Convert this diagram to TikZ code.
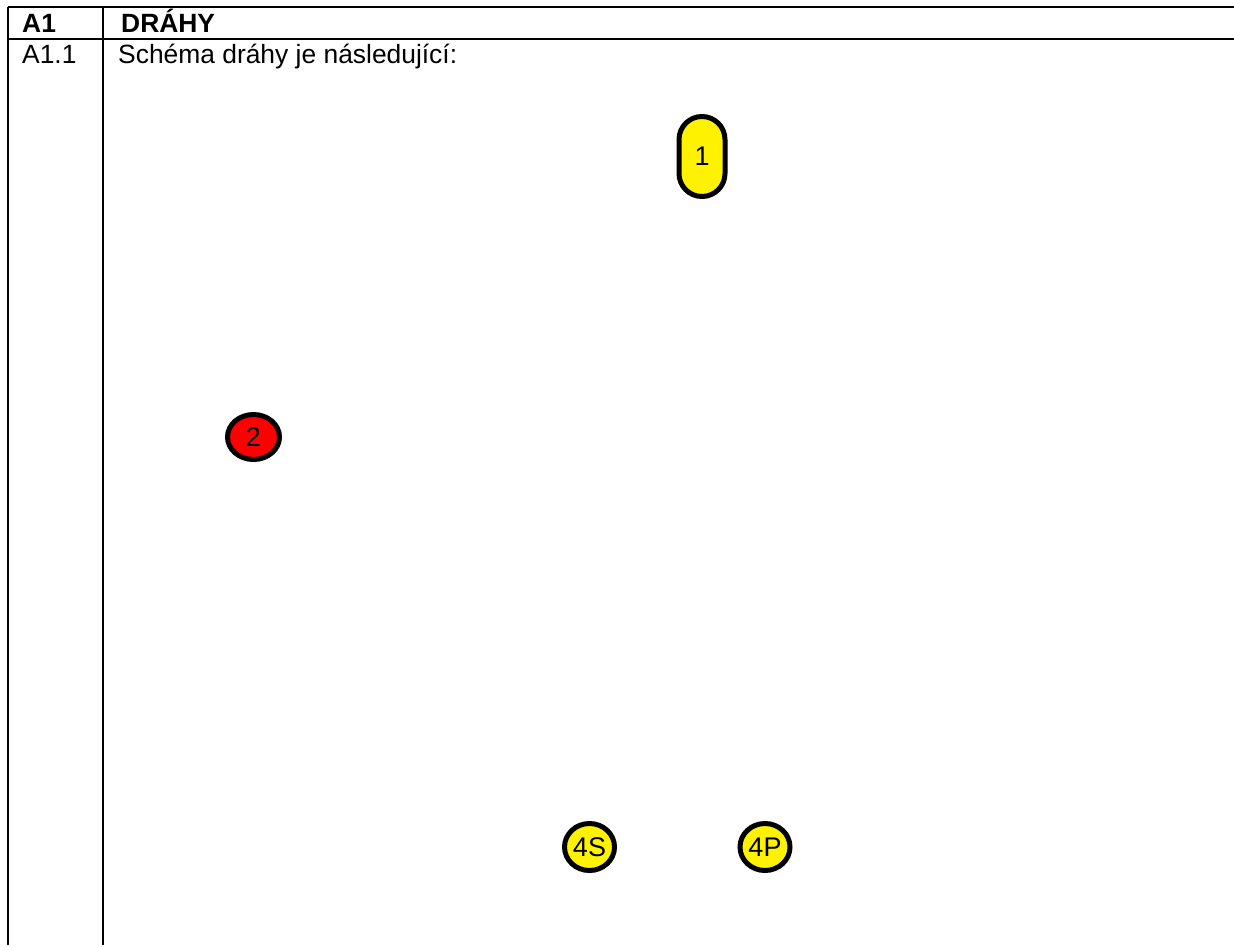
\documentclass[tikz,border=0pt]{standalone}
\usepackage{fontspec}
\setmainfont{Liberation Sans}
\usetikzlibrary{shapes.geometric}
\begin{document}
\begin{tikzpicture}[x=1pt,y=-1pt,
  rule/.style={line width=2pt},
  celltext/.style={anchor=base west,inner sep=0pt,font=\fontsize{26.4}{30}\selectfont},
  headtext/.style={celltext,font=\bfseries\fontsize{26.4}{30}\selectfont},
  marker/.style={draw=black,line width=5pt,font=\fontsize{27}{30}\selectfont,inner sep=0pt}]
\useasboundingbox (0,0) rectangle (1234,946);
\coordinate (tl) at (8,7);
\coordinate (tr) at (1234,7);
\coordinate (ml) at (8,39);
\coordinate (mr) at (1234,39);
\coordinate (bl) at (8,945);
\coordinate (ct) at (103,7);
\coordinate (cb) at (103,945);
\draw[rule] (tl) -- (tr);
\draw[rule] (ml) -- (mr);
\draw[rule] (tl) -- (bl);
\draw[rule] (ct) -- (cb);
\node[headtext] (h1) at (22,32.5) {A1};
\node[headtext] (h2) at (121,32.5) {DRÁHY};
\node[celltext] (r1) at (22,63) {A1.1};
\node[celltext] (r2) at (118,63) {Schéma dráhy je následující:};
\node[marker,fill=yellow,rectangle,rounded corners=23pt,minimum width=46pt,minimum height=80pt] (n1) at (702,156.5) {1};
\node[marker,fill=red,ellipse,minimum width=52pt,minimum height=45pt] (n2) at (253.5,437) {2};
\node[marker,fill=yellow,ellipse,minimum width=50pt,minimum height=47pt] (n4s) at (589.5,847) {4S};
\node[marker,fill=yellow,ellipse,minimum width=50pt,minimum height=47pt] (n4p) at (765,847) {4P};
\end{tikzpicture}
\end{document}
